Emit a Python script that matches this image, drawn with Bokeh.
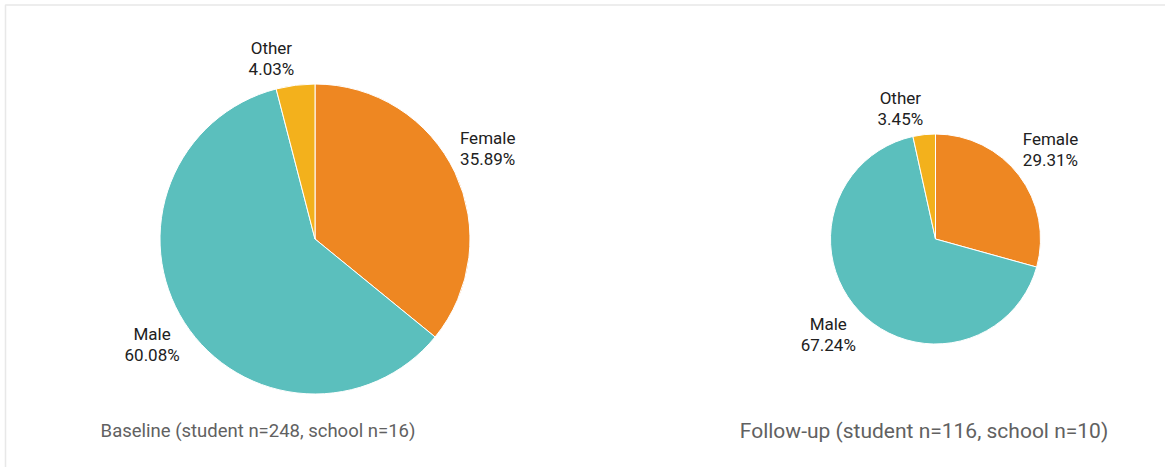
import numpy as np
from bokeh.plotting import figure
from bokeh.models import Range1d, BoxAnnotation, ColumnDataSource
from bokeh.core.properties import value
from bokeh.embed import file_html
from bokeh.resources import INLINE

categories = ["Female", "Male", "Other"]
baseline_pct = [35.89, 60.08, 4.03]
followup_pct = [29.31, 67.24, 3.45]
colors = ["#EE8722", "#5BBFBD", "#F3B11C"]
titles = ["Baseline (student n=248, school n=16)", "Follow-up (student n=116, school n=10)"]

W, H = 1165, 467
p = figure(width=W, height=H, x_range=Range1d(0, W), y_range=Range1d(0, H),
           output_backend="svg", toolbar_location=None, min_border=0)
p.axis.visible = False
p.grid.visible = False
p.outline_line_color = None
p.background_fill_color = "white"

# frame border (top and left visible)
p.add_layout(BoxAnnotation(left=5, right=1300, top=H - 4.5, bottom=-50,
                           fill_alpha=0, line_color="#B4B4B4", line_width=1.5))

# pie geometry: (center x, center y from top, radius, title center x, title size)
pies = [(314.5, 238.5, 155, 257.5, "18.5px"), (935.0, 238.5, 105, 923.5, "21px")]
series = [baseline_pct, followup_pct]

CHAR_W = 9.6   # approx. width per character at 17px
BOX_H = 42     # two text lines

for (cx, cy_top, r, tx, tsize), vals, title in zip(pies, series, titles):
    cy = H - cy_top
    v = np.array(vals, dtype=float)
    frac = v / v.sum()
    cum = np.concatenate([[0], np.cumsum(frac)])
    start = np.pi / 2 - 2 * np.pi * cum[:-1]
    end = np.pi / 2 - 2 * np.pi * cum[1:]
    src = ColumnDataSource(dict(x=[cx] * 3, y=[cy] * 3, start=start, end=end,
                                color=colors, cat=categories))
    p.wedge(x="x", y="y", radius=r, radius_units="screen", start_angle="start",
            end_angle="end", direction="clock", fill_color="color",
            line_color="white", line_width=1, source=src)

    pct = [f"{x:.2f}%" for x in v]
    mid = (start + end) / 2
    cosm, sinm = np.cos(mid), np.sin(mid)
    px = cx + (r + 12) * cosm
    py = cy + (r + 12) * sinm
    w = np.array([max(len(a), len(b)) for a, b in zip(categories, pct)]) * CHAR_W
    right_side = cosm >= 0
    upper = sinm >= 0
    # horizontal: nearest box edge sits next to the anchor point
    left_edge = np.where(right_side, px - 7,
                         np.where(upper, px + 1.5, px + 6.5) - w)
    lx = left_edge + w / 2
    # vertical: bottom edge for upper labels, top edge for lower labels
    bottom = np.where(upper, py - np.where(right_side, 2.5, 6.5), 0)
    top = np.where(upper, 0, py + 5.5)
    ly = np.where(upper, bottom + BOX_H / 2, top - BOX_H / 2)

    p.text(x=lx, y=ly + 10.5, text=categories, text_font=value("Roboto"),
           text_font_size="17px", text_color="#212121", text_align="center",
           text_baseline="middle")
    p.text(x=lx, y=ly - 10.5, text=pct, text_font=value("Roboto"),
           text_font_size="17px", text_color="#212121", text_align="center",
           text_baseline="middle")
    p.text(x=[tx], y=[H - 430], text=[title], text_font=value("Roboto"),
           text_font_size=tsize, text_color="#616161", text_align="center",
           text_baseline="middle")

open("out.html", "w").write(file_html(p, INLINE))
